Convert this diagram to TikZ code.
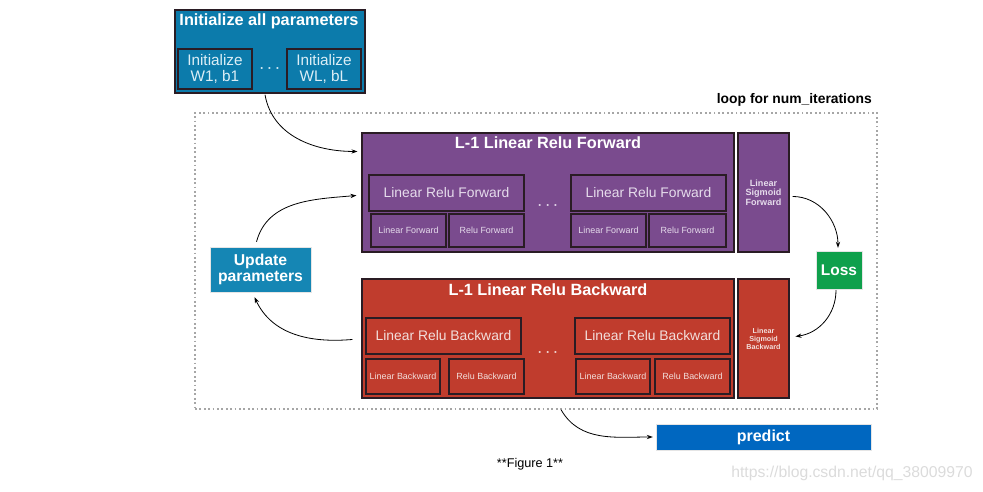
\documentclass[tikz,border=0pt]{standalone}
\usepackage{fontspec}
\setmainfont{Liberation Sans}
\usetikzlibrary{calc,arrows.meta}
\definecolor{initblue}{HTML}{0C7BAB}
\definecolor{purp}{HTML}{7A4B8E}
\definecolor{redb}{HTML}{C03C2D}
\definecolor{updblue}{HTML}{1586B4}
\definecolor{lossgreen}{HTML}{0FA04C}
\definecolor{predblue}{HTML}{0067C0}
\definecolor{edge}{HTML}{2A1C24}
\definecolor{lightpurp}{HTML}{E6DCEC}
\definecolor{lightred}{HTML}{F2DEDB}
\definecolor{lightblue}{HTML}{DCEEF6}
\tikzset{
  rect/.style n args={4}{at={({(#1+#3)/2},{(#2+#4)/2})},
    minimum width={(#3-#1)*0.75pt}, minimum height={(#4-#2)*0.75pt}},
  box/.style={inner sep=0pt, draw=edge, line width=0.8pt, align=center},
  innerbox/.style={inner sep=0pt, draw=edge, line width=0.9pt, align=center},
  flat/.style={inner sep=0pt, draw=white!80!gray, line width=0.3pt, text=white, align=center},
  conn/.style={-{Stealth[length=4.5pt,width=3.2pt]}, line width=0.6pt, black},
  titletext/.style={text=white, font=\bfseries\fontsize{12.2}{14}\selectfont},
  bigtext/.style={font=\fontsize{10.4}{12}\selectfont},
  smalltext/.style={font=\fontsize{6.7}{8}\selectfont},
  dotstext/.style={font=\bfseries\fontsize{9}{10}\selectfont},
}
\begin{document}
\begin{tikzpicture}[x=0.75pt,y=-0.75pt]
\useasboundingbox (0,0) rectangle (983,492);

% Initialize all parameters
\node[box, fill=initblue, line width=1.1pt, rect={175}{10}{365}{93}] (init) {};
\node[titletext] (inittitle) at (269,21) {Initialize all parameters};
\node[innerbox, text=lightblue, font=\fontsize{11.5}{11.5}\selectfont, rect={178}{49}{252}{89}] (w1) {Initialize\\W1, b1};
\node[innerbox, text=lightblue, font=\fontsize{11.5}{11.5}\selectfont, rect={287}{49}{361}{89}] (wL) {Initialize\\WL, bL};
\node[text=lightblue, dotstext] (initdots) at (270,70) {·\hspace{3pt}·\hspace{3pt}·};

% loop
\node[inner sep=0pt, draw=gray!70, line width=1.3pt, dotted, rect={195}{113}{877}{409}] (loop) {};
\node[anchor=south east, inner sep=0pt, font=\bfseries\fontsize{10.4}{12}\selectfont] (looplabel) at (872,107) {loop for num\_iterations};

% forward
\node[box, fill=purp, rect={362}{133}{734}{252}] (fwd) {};
\node[titletext] (fwdtitle) at (548,143) {L-1 Linear Relu Forward};
\node[innerbox, text=lightpurp, bigtext, rect={369}{175}{524}{211}] (lrf1) {Linear Relu Forward};
\node[innerbox, text=lightpurp, bigtext, rect={571}{175}{726}{211}] (lrf2) {Linear Relu Forward};
\node[innerbox, text=lightpurp, smalltext, rect={371}{214}{446}{247}] (lf1) {Linear Forward};
\node[innerbox, text=lightpurp, smalltext, rect={449}{214}{524}{247}] (rf1) {Relu Forward};
\node[innerbox, text=lightpurp, smalltext, rect={571}{214}{646}{247}] (lf2) {Linear Forward};
\node[innerbox, text=lightpurp, smalltext, rect={649}{214}{726}{247}] (rf2) {Relu Forward};
\node[text=lightpurp, dotstext] (fwddots) at (548,207) {·\hspace{3pt}·\hspace{3pt}·};
\node[box, fill=purp, text=lightpurp, font=\bfseries\fontsize{6.8}{7.3}\selectfont, rect={738}{133}{789}{252}] (sigf) {Linear\\Sigmoid\\Forward};

% backward
\node[box, fill=redb, rect={362}{279}{734}{398}] (bwd) {};
\node[titletext] (bwdtitle) at (548,290) {L-1 Linear Relu Backward};
\node[innerbox, text=lightred, bigtext, rect={366}{318}{521}{354}] (lrb1) {Linear Relu Backward};
\node[innerbox, text=lightred, bigtext, rect={575}{318}{730}{354}] (lrb2) {Linear Relu Backward};
\node[innerbox, text=lightred, smalltext, rect={366}{359}{440}{394}] (lb1) {Linear Backward};
\node[innerbox, text=lightred, smalltext, rect={449}{359}{524}{394}] (rb1) {Relu Backward};
\node[innerbox, text=lightred, smalltext, rect={576}{359}{650}{394}] (lb2) {Linear Backward};
\node[innerbox, text=lightred, smalltext, rect={655}{359}{730}{394}] (rb2) {Relu Backward};
\node[text=lightred, dotstext] (bwddots) at (548,354) {·\hspace{3pt}·\hspace{3pt}·};
\node[box, fill=redb, text=lightred, font=\bfseries\fontsize{5.4}{6}\selectfont, rect={738}{279}{789}{398}] (sigb) {Linear\\Sigmoid\\Backward};

% update, loss, predict
\node[flat, fill=updblue, font=\bfseries\fontsize{11.8}{12}\selectfont, rect={210}{247}{311}{292}] (upd) {Update\\parameters};
\node[flat, fill=lossgreen, font=\bfseries\fontsize{11.6}{12}\selectfont, rect={816}{251}{862}{289}] (loss) {Loss};
\node[flat, fill=predblue, font=\bfseries\fontsize{12}{14}\selectfont, rect={656}{424}{871}{450}] (pred) {predict};

% captions
\node[font=\fontsize{9.5}{11}\selectfont] (fig) at (530,464) {**Figure 1**};
\node[text=gray!28, font=\fontsize{11.8}{13}\selectfont] (wm) at (852,473) {https://blog.csdn.net/qq\_38009970};

% connectors
\draw[conn] ($(init.south)+(-5,1)$) to[out=-80,in=180] ($(fwd.north west)+(-4,19)$);
\draw[conn] ($(upd.north)+(-4,-5)$) to[out=75,in=185] ($(fwd.north west)+(-5,63)$);
\draw[conn] ($(bwd.north west)+(-9,61)$) to[out=185,in=-65] ($(upd.south)+(-6,5)$);
\draw[conn] ($(sigf.north east)+(3,64)$) to[out=0,in=90] ($(loss.north)+(-1,-3)$);
\draw[conn] ($(loss.south)+(-3,1)$) to[out=-90,in=8] ($(sigb.north west)+(58,58)$);
\draw[conn] ($(loop.south west)+(367,0)$) to[out=-60,in=180] ($(pred.west)+(-3,0)$);
\end{tikzpicture}
\end{document}
